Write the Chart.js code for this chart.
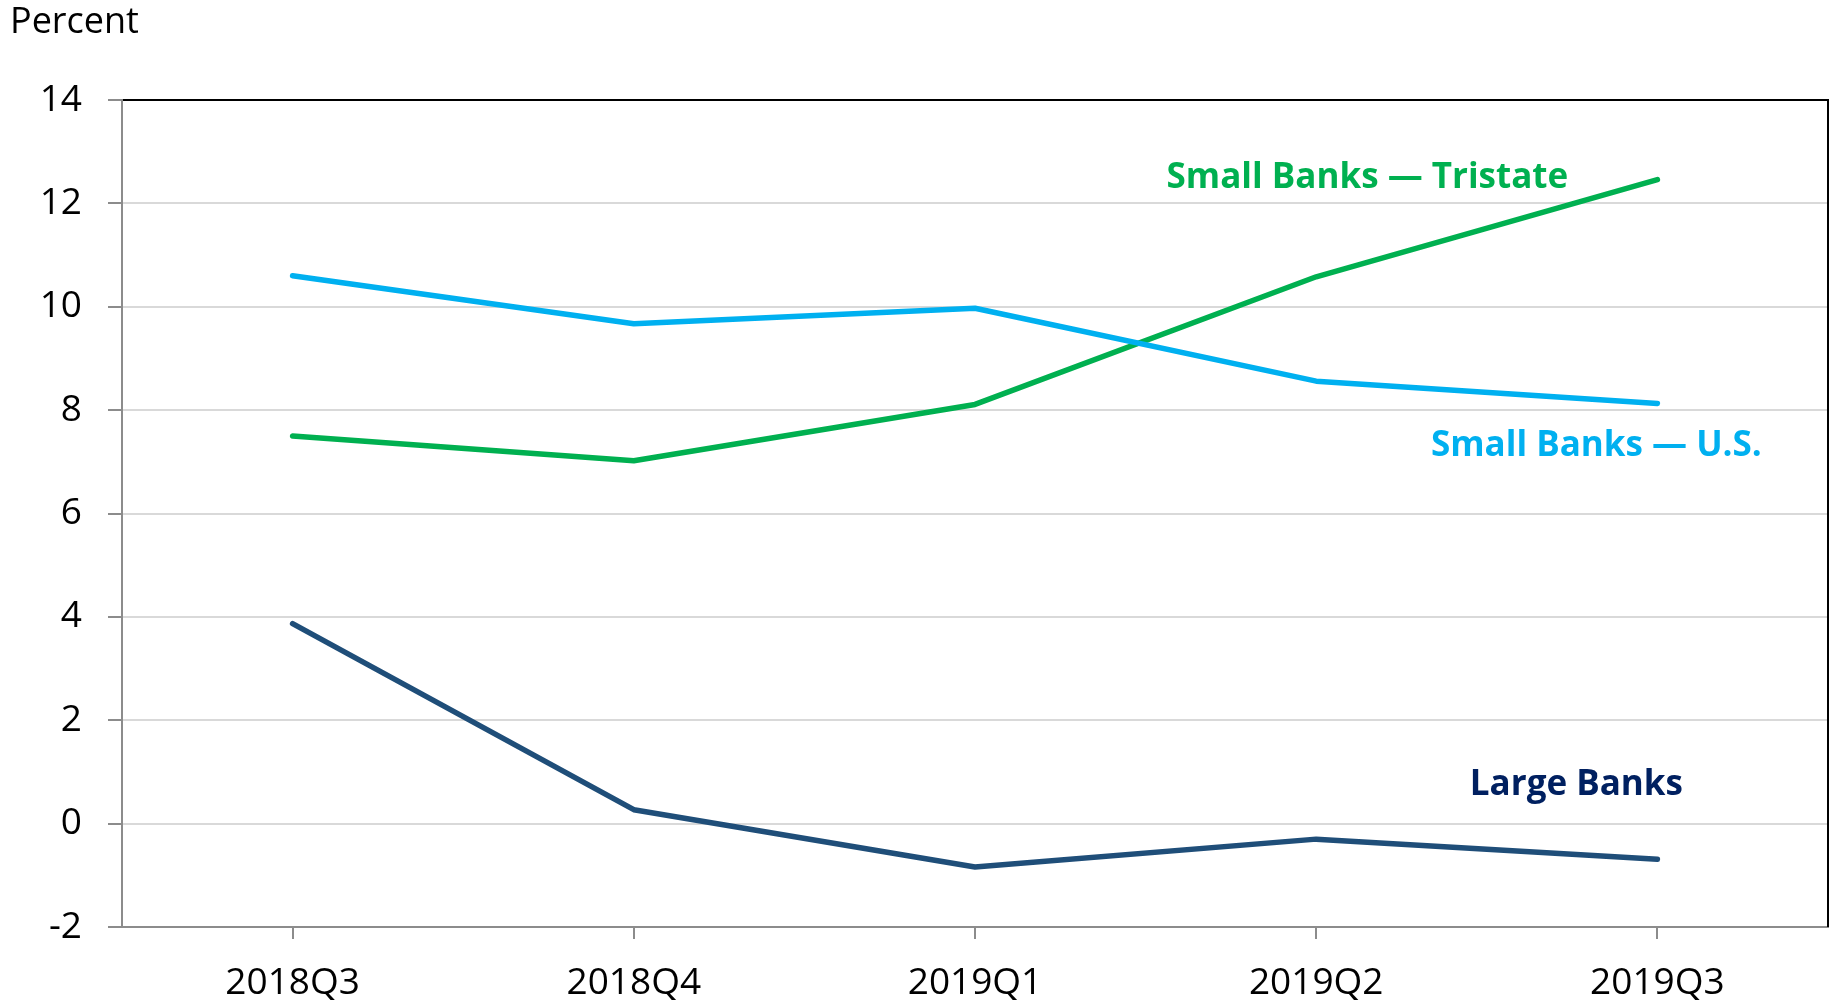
<!DOCTYPE html>
<html>
<head>
<meta charset="utf-8">
<script src="https://cdn.jsdelivr.net/npm/chart.js@4/dist/chart.umd.min.js"></script>
<style>
  html, body { margin: 0; padding: 0; background: #fff; }
  #wrap { width: 1837px; height: 1004px; }
</style>
</head>
<body>
<div id="wrap"><canvas id="grafico" width="1837" height="1004"></canvas></div>
<script>
const trimestres = ['2018Q3', '2018Q4', '2019Q1', '2019Q2', '2019Q3'];
const grandesBancos = [3.87, 0.27, -0.84, -0.30, -0.69];
const pequenosEUA = [10.6, 9.67, 9.97, 8.56, 8.13];
const pequenosTristate = [7.5, 7.02, 8.11, 10.58, 12.46];
const ticksY = [-2, 0, 2, 4, 6, 8, 10, 12, 14];

const fonte = '"Open Sans", "Liberation Sans", sans-serif';
const cinzaEixo = '#8c8c8c';

// rótulos das séries e título do eixo, desenhados depois do gráfico
const rotulos = {
  id: 'rotulos',
  afterDraw(chart) {
    const { ctx, scales: { x, y }, chartArea } = chart;
    ctx.save();

    // borda de cima e da direita
    ctx.strokeStyle = '#000';
    ctx.lineWidth = 2;
    ctx.beginPath();
    ctx.moveTo(chartArea.left + 13, chartArea.top);
    ctx.lineTo(chartArea.right, chartArea.top);
    ctx.lineTo(chartArea.right, chartArea.bottom);
    ctx.stroke();

    ctx.fillStyle = '#000';
    ctx.font = '36px ' + fonte;
    ctx.textAlign = 'left';
    ctx.textBaseline = 'middle';
    ctx.fillText('Percent', 10, 23);

    ctx.font = 'bold 35px ' + fonte;
    ctx.textAlign = 'center';
    ctx.fillStyle = '#00B050';
    ctx.fillText('Small Banks — Tristate', x.getPixelForValue(4) - 290, y.getPixelForValue(12.5));
    ctx.fillStyle = '#00B0F0';
    ctx.fillText('Small Banks — U.S.', x.getPixelForValue(4) - 61, y.getPixelForValue(7.3));
    ctx.fillStyle = '#002060';
    ctx.fillText('Large Banks', x.getPixelForValue(4) - 81, y.getPixelForValue(0.74));
    ctx.restore();
  }
};

new Chart(document.getElementById('grafico'), {
  type: 'line',
  data: {
    labels: trimestres,
    datasets: [{
      label: 'Large Banks',
      data: grandesBancos,
      borderColor: '#1F4E79'
    }, {
      label: 'Small Banks — U.S.',
      data: pequenosEUA,
      borderColor: '#00B0F0'
    }, {
      label: 'Small Banks — Tristate',
      data: pequenosTristate,
      borderColor: '#00B050'
    }]
  },
  options: {
    responsive: false,
    animation: false,
    layout: { padding: { top: 100, right: 9, left: 0, bottom: 0 } },
    elements: {
      line: { borderWidth: 5.5, tension: 0, borderCapStyle: 'round', borderJoinStyle: 'round' },
      point: { radius: 0, hoverRadius: 0 }
    },
    plugins: {
      legend: { display: false },
      tooltip: { enabled: false }
    },
    scales: {
      x: {
        offset: true,
        border: { color: cinzaEixo, width: 2 },
        grid: { offset: false, drawOnChartArea: false, tickLength: 12, tickColor: cinzaEixo, lineWidth: 2 },
        ticks: { color: '#000', font: { family: fonte, size: 37 }, padding: 22, maxRotation: 0 },
        afterFit(scale) { scale.height = 77; }
      },
      y: {
        min: -2,
        max: 14,
        afterBuildTicks(scale) { scale.ticks = ticksY.map((v) => ({ value: v })); },
        border: { color: cinzaEixo, width: 2 },
        grid: {
          color: (c) => c.tick && c.tick.value === 14 ? '#000' : (c.tick && c.tick.value === -2 ? cinzaEixo : '#D9D9D9'),
          lineWidth: 2,
          tickLength: 14,
          tickColor: cinzaEixo
        },
        ticks: { color: '#000', font: { family: fonte, size: 37 }, padding: 26 },
        afterFit(scale) { scale.width = 122; }
      }
    }
  },
  plugins: [rotulos]
});
</script>
</body>
</html>
